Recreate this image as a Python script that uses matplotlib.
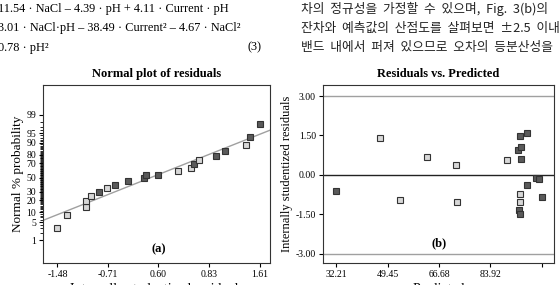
import matplotlib
matplotlib.use('Agg')
import matplotlib.pyplot as plt
import numpy as np
from statistics import NormalDist

plt.rcParams['font.family'] = ['Liberation Serif', 'Noto Sans CJK KR', 'DejaVu Sans']

# (a) normal plot of residuals
res_a = [-1.48, -1.33, -1.04, -1.04, -0.97, -0.84, -0.72, -0.60, -0.40, -0.15,
         -0.12, 0.055, 0.37, 0.57, 0.61, 0.68, 0.94, 1.08, 1.41, 1.47, 1.61]
prob_a = [3.0, 8.5, 13.8, 18.8, 24.2, 29.8, 34.5, 39.4, 44.8, 49.2,
          54.4, 54.0, 59.5, 64.1, 69.5, 73.6, 78.8, 83.6, 88.3, 93.1, 97.7]
dark_a = [0, 0, 0, 0, 0, 1, 0, 1, 1, 1, 1, 1, 0, 0, 1, 0, 1, 1, 0, 1, 1]
xtick_a = ['-1.48', '-0.71', '0.60', '0.83', '1.61']
ytick_a = [1, 5, 10, 20, 30, 50, 70, 80, 90, 95, 99]

# (b) residuals vs predicted
pred_b = [32.21, 47.01, 53.51, 62.48, 72.23, 72.57, 89.61, 93.19, 93.87, 94.09,
          94.09, 96.11, 93.42, 93.98, 93.98, 93.98, 96.33, 99.13, 100.14, 101.15]
res_b = [-0.61, 1.42, -0.97, 0.70, 0.38, -1.04, 0.57, 0.95, 1.48, 1.08,
         0.61, 1.61, -1.33, -1.48, -0.73, -1.04, -0.39, -0.10, -0.14, -0.85]
dark_b = [1, 0, 0, 0, 0, 0, 0, 1, 1, 1, 1, 1, 1, 1, 0, 0, 1, 1, 1, 1]
xtick_b = ['32.21', '49.45', '66.68', '83.92', '']
ytick_b = [-3.0, -1.5, 0.0, 1.5, 3.0]

nd = NormalDist()
z = lambda p: nd.inv_cdf(p / 100.0)

fig = plt.figure(figsize=(5.6, 2.85), dpi=100)

# text from the page above the charts
left_lines = ['11.54 · NaCl – 4.39 · pH + 4.11 · Current · pH',
              '3.01 · NaCl·pH – 38.49 · Current² – 4.67 · NaCl²',
              '0.78 · pH²']
right_lines = ['차의  정규성을  가정할  수  있으며,  Fig.  3(b)의',
               '잔차와  예측값의  산점도를  살펴보면  ±2.5  이내의',
               '밴드  내에서  퍼져  있으므로  오차의  등분산성을']
for i, s in enumerate(left_lines):
    fig.text(-0.004, 1 - (9 + 19.5 * i) / 285, s, fontsize=8.8, va='center', ha='left')
fig.text(262 / 560, 1 - 47 / 285, '(3)', fontsize=8.8, va='center', ha='right')
for i, s in enumerate(right_lines):
    fig.text(301 / 560, 1 - (9 + 19.5 * i) / 285, s, fontsize=9.2, va='center', ha='left',
             family=['Noto Sans CJK KR', 'Liberation Serif'], color='#222222')

ax1 = fig.add_axes([43 / 560, 1 - 263 / 285, 227 / 560, 178 / 285])
ax2 = fig.add_axes([323 / 560, 1 - 263 / 285, 231 / 560, 178 / 285])

# panel a
za = [z(p) for p in prob_a]
for x, y, d in zip(res_a, za, dark_a):
    ax1.plot(x, y, 's', ms=4, mfc='#5a5a5a' if d else '#d8d8d8', mec='#333333', mew=0.8)
k, b = np.polyfit(res_a, za, 1)
xl = np.array([-1.70, 1.77])
ax1.plot(xl, k * xl + b, color='#a0a0a0', lw=1, zorder=1)
ax1.set_xlim(-1.70, 1.77)
ax1.set_ylim(-3.16, 3.42)
ax1.set_xticks(np.linspace(-1.48, 1.61, 5))
ax1.set_xticklabels(xtick_a)
ax1.set_yticks([z(p) for p in ytick_a])
ax1.set_yticklabels([str(p) for p in ytick_a])
ax1.set_yticks([z(p) for p in range(1, 100)], minor=True)
ax1.tick_params(axis='y', which='minor', length=2, width=0.6)
ax1.text(0.065, -2.65, '(a)', fontsize=9, fontweight='bold', ha='center', va='center')
ax1.set_title('Normal plot of residuals', fontsize=9, fontweight='bold', pad=6)
ax1.set_ylabel('Normal % probability', fontsize=9.5, labelpad=2)
ax1.set_xlabel('Internally studentized residuals', fontsize=10, labelpad=3)

# panel b
for x, y, d in zip(pred_b, res_b, dark_b):
    ax2.plot(x, y, 's', ms=4, mfc='#5a5a5a' if d else '#d8d8d8', mec='#333333', mew=0.8)
ax2.axhline(3.0, color='#a0a0a0', lw=1, zorder=1)
ax2.axhline(-3.0, color='#a0a0a0', lw=1, zorder=1)
ax2.axhline(0.0, color='#222222', lw=1, zorder=1)
ax2.set_xlim(27.7, 105.3)
ax2.set_ylim(-3.35, 3.42)
ax2.set_xticks(np.linspace(32.21, 101.15, 5))
ax2.set_xticklabels(xtick_b)
ax2.set_yticks(ytick_b)
ax2.set_yticklabels(['%.2f' % v for v in ytick_b])
ax2.text(66.7, -2.6, '(b)', fontsize=9, fontweight='bold', ha='center', va='center')
ax2.set_title('Residuals vs. Predicted', fontsize=9, fontweight='bold', pad=6)
ax2.set_ylabel('Internally studentized residuals', fontsize=9, labelpad=2)
ax2.set_xlabel('Predicted', fontsize=10, labelpad=3)

for ax in (ax1, ax2):
    ax.tick_params(labelsize=7, length=3, width=0.8, pad=2)
    for sp in ax.spines.values():
        sp.set_linewidth(0.8)
        sp.set_color('#333333')

fig.savefig('out.png', dpi=100)
